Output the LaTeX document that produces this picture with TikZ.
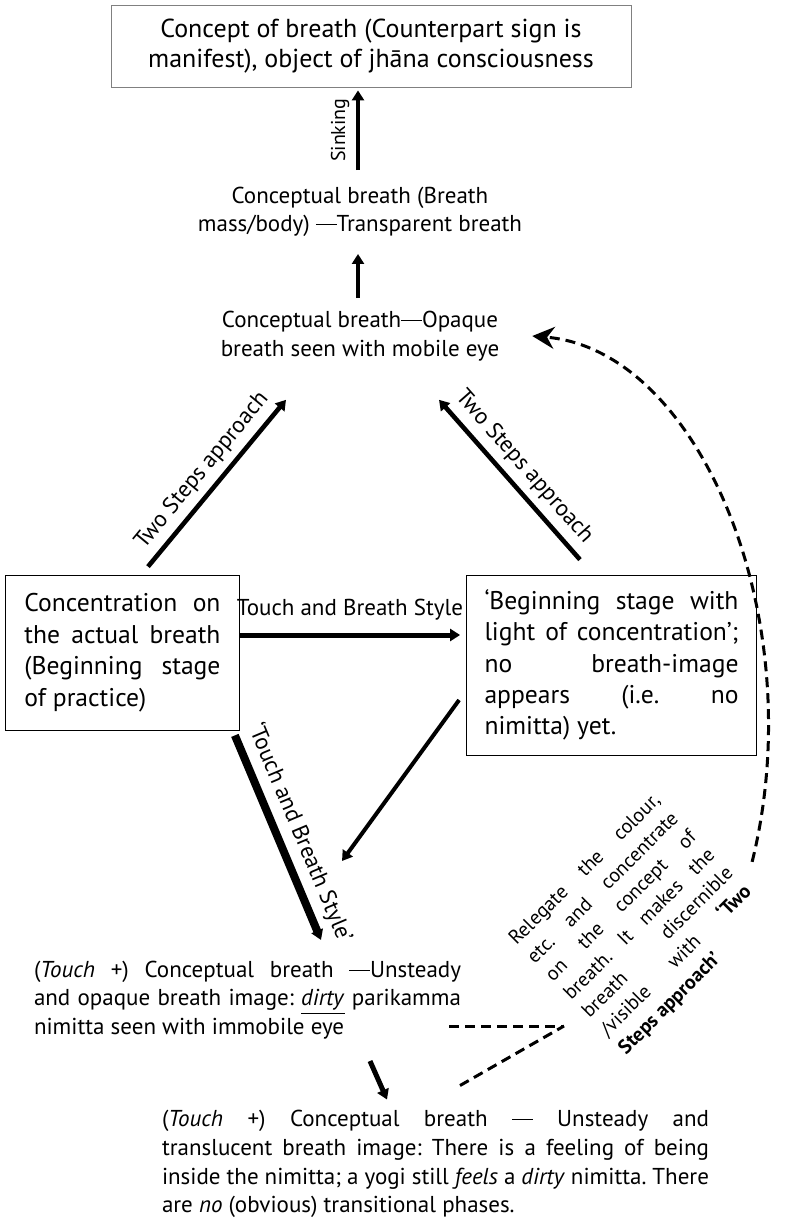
\documentclass[tikz,border=0pt]{standalone}
\usepackage{fontspec}
\setmainfont{PT Sans}
\usetikzlibrary{arrows.meta}
\frenchspacing
\newcommand{\emrule}{\rule[0.28em]{0.9em}{0.055em}}

\begin{document}
\begin{tikzpicture}[
  x=0.5pt,y=-0.5pt,
  font=\fontsize{11.5}{14.2}\selectfont,
  stagebox/.style={draw,thin,inner sep=0pt},
  jtext/.style={align=justify,text width=#1},
  ar/.style={-{Triangle[length=5pt,width=6pt]},line width=2pt},
  dsh/.style={dashed,line width=1.5pt,dash pattern=on 5pt off 3pt}]
\useasboundingbox (0,0) rectangle (802,1220);

% stages of the breath
\node[stagebox,draw=black!50,minimum width=260pt,minimum height=41pt,align=center,
      font=\fontsize{13}{15}\selectfont] (sign) at (371,46)
   {Concept of breath (Counterpart sign is\\manifest), object of jhāna consciousness};
\node[align=center] (mass) at (360,212) {Conceptual breath (Breath\\mass/body) \emrule Transparent breath};
\node[align=center] (opaque) at (360,336) {Conceptual breath\emrule Opaque\\breath seen with mobile eye};

\node[stagebox,jtext=98pt,inner xsep=9.5pt,minimum height=77.5pt,
      font=\fontsize{12.8}{15.8}\selectfont] (actual) at (122.5,652.5)
   {Concentration on\linebreak the actual breath\linebreak (Beginning stage\linebreak of practice)};
\node[stagebox,jtext=127pt,inner xsep=9pt,minimum height=90pt,
      font=\fontsize{12.8}{15.6}\selectfont] (light) at (611.5,665)
   {‘Beginning stage with\linebreak light of concentration’;\linebreak no breath-image\linebreak appears (i.e. no\linebreak nimitta) yet.};

\node[jtext=213.5pt] (dirty) at (247.5,1000)
   {(\textit{Touch} +) Conceptual breath \emrule Unsteady\linebreak and opaque breath image: \underline{\textit{dirty}} parikamma\linebreak nimitta seen with immobile eye};
\node[jtext=273.5pt,font=\fontsize{11.5}{14.4}\selectfont] (transl) at (435.5,1164)
   {(\textit{Touch} +) Conceptual breath \emrule{} Unsteady and\linebreak translucent breath image: There is a feeling of being\linebreak inside the nimitta; a yogi still \textit{feels} a \textit{dirty} nimitta. There\linebreak are \textit{no} (obvious) transitional phases.};

\node[jtext=102pt,rotate=45,font=\fontsize{10}{12.9}\selectfont] (relegate) at (640,925)
   {Relegate the colour,\linebreak etc. and concentrate\linebreak on the concept of\linebreak breath. It makes the\linebreak breath discernible\linebreak /visible with \textbf{‘Two\linebreak Steps approach’}};

% upward path
\draw[ar] ([xshift=-1pt,yshift=5pt]mass.north) -- ([xshift=-6.5pt,yshift=-1.5pt]sign.south)
   node[midway,above,sloped,font=\fontsize{10}{11}\selectfont] {Sinking};
\draw[ar] ([xshift=-1pt,yshift=3pt]opaque.north) -- ([xshift=-1pt,yshift=-5pt]mass.south);
\draw[ar,line width=2.3pt] ([xshift=12.75pt,yshift=4pt]actual.north) -- ([xshift=-37pt,yshift=-16pt]opaque.south)
   node[midway,above,sloped] {Two Steps approach};
\draw[ar,line width=2.3pt] ([xshift=-15.75pt,yshift=7.5pt]light.north) -- ([xshift=39.5pt,yshift=-16pt]opaque.south)
   node[midway,above,sloped] {Two Steps approach};

% downward path
\draw[ar,line width=2.5pt] ([yshift=8.75pt]actual.east) -- ([xshift=-3pt,yshift=15pt]light.west)
   node[midway,above=3pt] {Touch and Breath Style};
\draw[ar] ([xshift=-3.5pt,yshift=-17.5pt]light.west) -- ([xshift=47.25pt,yshift=46.5pt]dirty.north);
\draw[ar,line width=4pt] ([xshift=-2.5pt,yshift=-2.5pt]actual.south east) -- ([xshift=36.75pt,yshift=7pt]dirty.north)
   node[pos=0.52,above,sloped] {‘Touch and Breath Style’};
\draw[ar,line width=2.5pt] ([xshift=61.25pt,yshift=-7.5pt]dirty.south) -- ([xshift=-24.25pt,yshift=1.75pt]transl.north);

% relegating the colour
\coordinate (meet) at (564,1026);
\draw[dsh] ([xshift=-9.5pt,yshift=-13pt]dirty.east) -- (meet);
\draw[dsh] ([xshift=12.25pt,yshift=8.75pt]transl.north) -- (meet);
\draw[dsh,-{Stealth[length=11pt,width=11pt]}] ([xshift=17.5pt,yshift=-7pt]relegate.east)
   .. controls (812,620) and (700,350) .. ([xshift=13pt]opaque.east);
\end{tikzpicture}
\end{document}
